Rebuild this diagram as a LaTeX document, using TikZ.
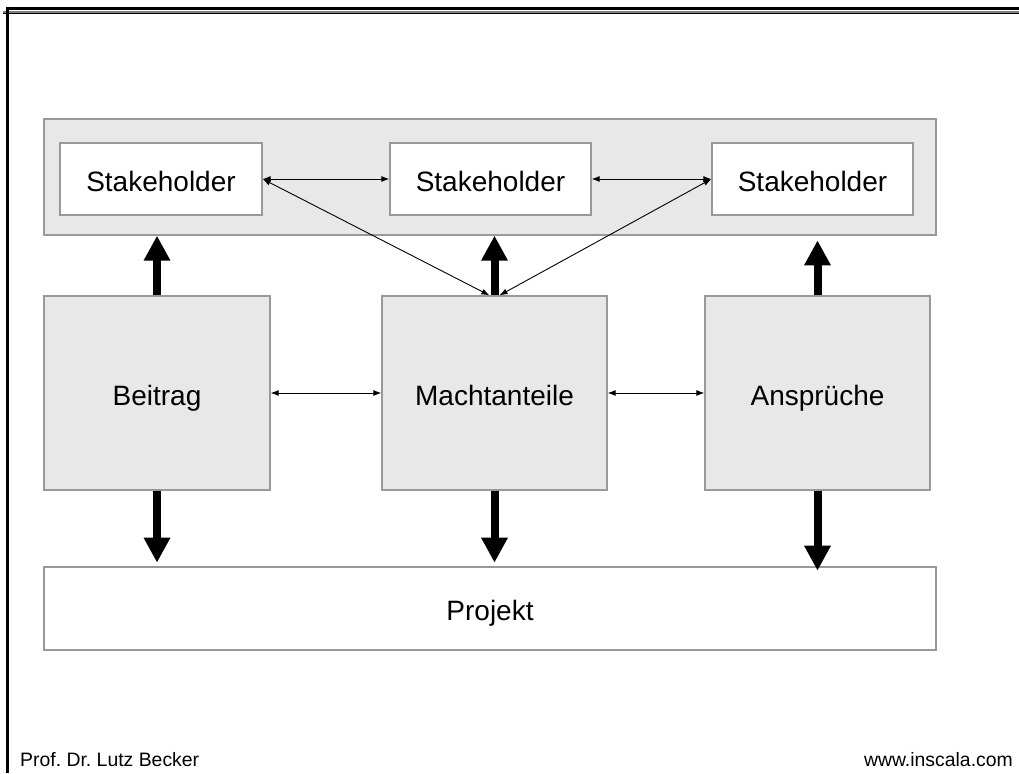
\documentclass[tikz,border=0pt]{standalone}
\usepackage{fontspec}
\setmainfont{Liberation Sans}
\frenchspacing
\usetikzlibrary{arrows.meta}
\definecolor{boxgray}{HTML}{E8E8E8}
\definecolor{edgegray}{HTML}{999999}
\tikzset{
  boxtext/.style={font=\fontsize{28}{32}\selectfont, text height=31pt, text depth=7pt},
  sbox/.style={draw=edgegray, line width=1.3pt, fill=white, inner sep=0pt, boxtext},
  gbox/.style={draw=edgegray, line width=1.3pt, fill=boxgray, inner sep=0pt, boxtext},
  fatarrow/.style={line width=8pt, -{Triangle[width=25pt,length=25pt]}},
  thinarrow/.style={line width=0.9pt, {Latex[length=8pt,width=6pt]}-{Latex[length=8pt,width=6pt]}},
  foot/.style={font=\fontsize{19.4}{22}\selectfont, inner sep=0pt}
}
\begin{document}
\begin{tikzpicture}[x=1pt,y=-1pt]
\useasboundingbox (0,0) rectangle (1019,773);
% frame lines
\draw[line width=2.5pt] (7,8.5) -- (1019,8.5);
\draw[line width=1.5pt, gray] (3,12) -- (1019,12);
\draw[line width=1pt] (3,13.8) -- (1019,13.8);
\draw[line width=2.5pt] (7.5,7.5) -- (7.5,773);
% boxes
\node[gbox, minimum width=892pt, minimum height=116pt] (outer) at (490,177) {};
\node[sbox, minimum width=202pt, minimum height=72pt] (s1) at (161,179) {Stakeholder};
\node[sbox, minimum width=201pt, minimum height=72pt] (s2) at (490.5,179) {Stakeholder};
\node[sbox, minimum width=201pt, minimum height=72pt] (s3) at (812.5,179) {Stakeholder};
\node[gbox, minimum width=226pt, minimum height=194pt] (beitrag) at (157,393) {Beitrag};
\node[gbox, minimum width=225pt, minimum height=194pt] (macht) at (494.5,393) {Machtanteile};
\node[gbox, minimum width=225pt, minimum height=194pt] (ansp) at (817.5,393) {Ansprüche};
\node[sbox, minimum width=892pt, minimum height=83pt] (projekt) at (490,608.5) {Projekt};
% thick arrows
\draw[fatarrow] (beitrag.north) -- (beitrag.north |- outer.south);
\draw[fatarrow] (macht.north) -- (macht.north |- outer.south);
\draw[fatarrow] (ansp.north) -- +(0,-55);
\draw[fatarrow] (beitrag.south) -- +(0,72);
\draw[fatarrow] (macht.south) -- +(0,72);
\draw[fatarrow] (ansp.south) -- +(0,80);
% thin arrows
\draw[thinarrow] (s1.east) -- (s2.west);
\draw[thinarrow] (s2.east) -- (s3.west);
\draw[thinarrow] (s1.east) -- ([xshift=-5pt]macht.north);
\draw[thinarrow] ([xshift=5pt]macht.north) -- (s3.west);
\draw[thinarrow] (beitrag.east) -- (macht.west);
\draw[thinarrow] (macht.east) -- (ansp.west);
% footer
\node[foot, anchor=base west] (author) at (20,766) {Prof. Dr. Lutz Becker};
\node[foot, anchor=base east] (web) at (1013,766) {www.inscala.com};
\end{tikzpicture}
\end{document}
